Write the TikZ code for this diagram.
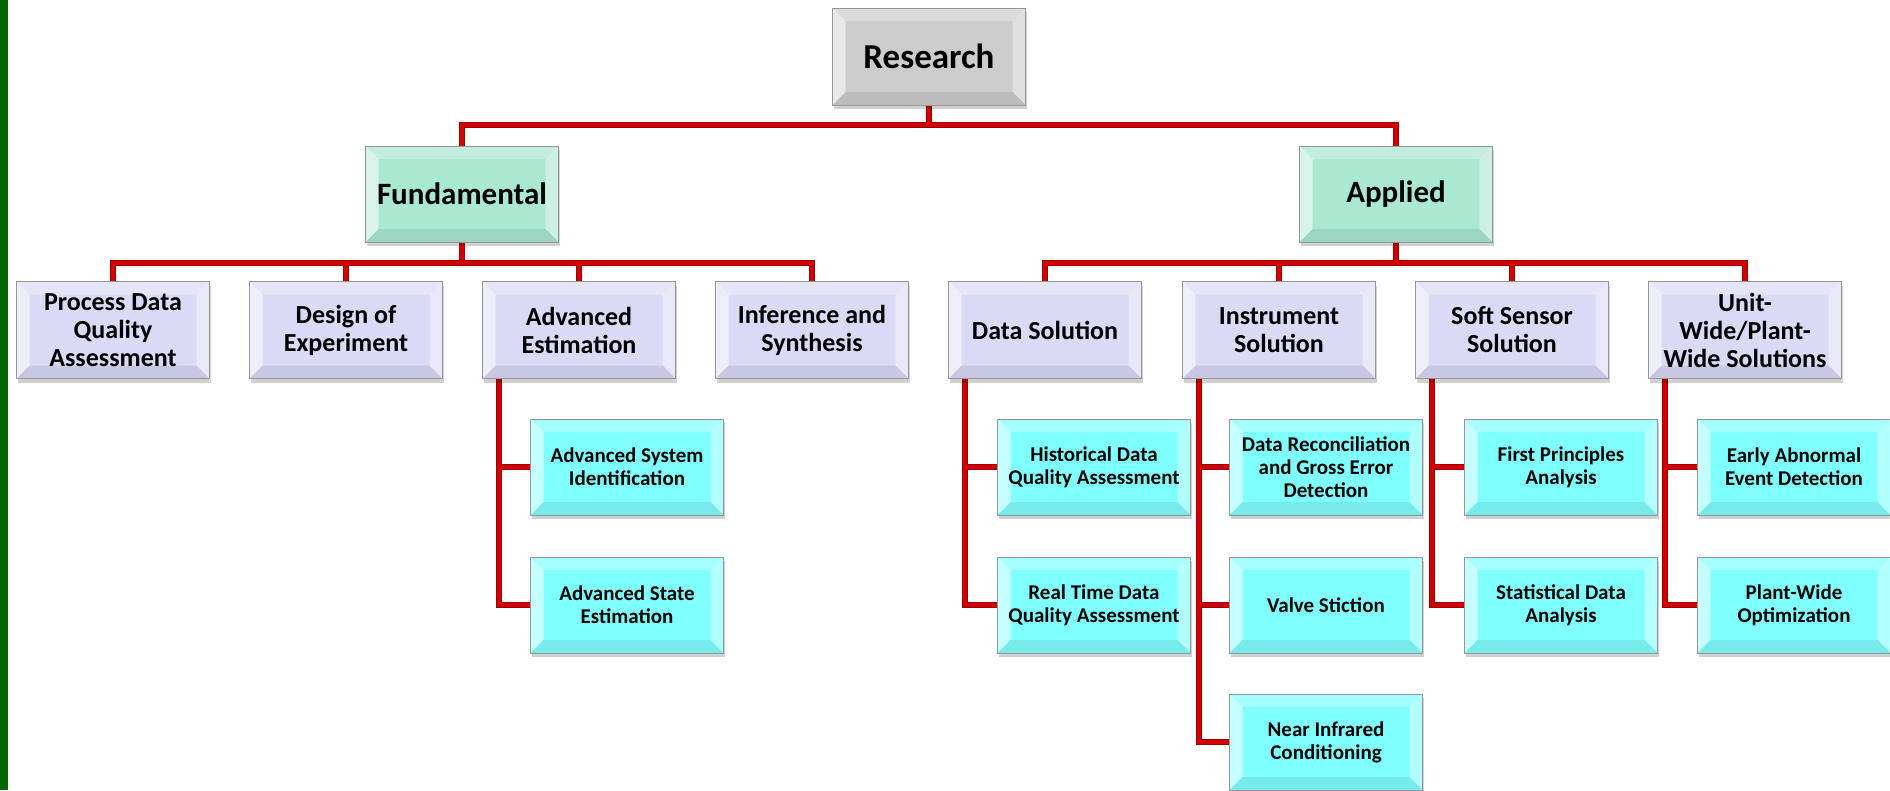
\documentclass[tikz,border=0pt]{standalone}
\usepackage{fontspec}
\setmainfont{Carlito}
\usetikzlibrary{shadows,backgrounds,calc}
\definecolor{barGreen}{RGB}{0,100,0}
\definecolor{lineRed}{RGB}{210,0,0}
\definecolor{lineDark}{RGB}{150,0,0}
\definecolor{rootGray}{RGB}{204,204,204}
\definecolor{mint}{RGB}{170,232,210}
\definecolor{lav}{RGB}{218,218,246}
\definecolor{cyanbox}{RGB}{128,255,255}
\definecolor{edgeGray}{RGB}{150,150,150}
\tikzset{
  bevel/.style={rectangle, draw=edgeGray, line width=1pt,
    minimum width=193pt, minimum height=96pt, inner sep=0pt, align=center, text=black,
    drop shadow={shadow xshift=1pt, shadow yshift=-4pt, opacity=0.18, fill=black},
    path picture={
      \path (path picture bounding box.north west) coordinate (pnw)
            (path picture bounding box.north east) coordinate (pne)
            (path picture bounding box.south west) coordinate (psw)
            (path picture bounding box.south east) coordinate (pse);
      \fill[white,opacity=.30] (pnw) -- (pne) -- ([shift={(-13pt,-13pt)}]pne) -- ([shift={(13pt,-13pt)}]pnw) -- cycle;
      \fill[white,opacity=.55] (pnw) -- ([shift={(13pt,-13pt)}]pnw) -- ([shift={(13pt,13pt)}]psw) -- (psw) -- cycle;
      \fill[white,opacity=.40] (pne) -- (pse) -- ([shift={(-13pt,13pt)}]pse) -- ([shift={(-13pt,-13pt)}]pne) -- cycle;
      \fill[black,opacity=.08] (psw) -- (pse) -- ([shift={(-13pt,13pt)}]pse) -- ([shift={(13pt,13pt)}]psw) -- cycle;
    }},
  rootbox/.style={bevel, fill=rootGray, minimum height=97pt, font=\bfseries\fontsize{35}{40}\selectfont},
  midbox/.style={bevel, fill=mint, font=\bfseries\fontsize{31}{36}\selectfont},
  catbox/.style={bevel, fill=lav, minimum height=97pt, font=\bfseries\fontsize{26}{28}\selectfont},
  leafbox/.style={bevel, fill=cyanbox, font=\bfseries\fontsize{21}{23}\selectfont},
  darkw/.style={draw=lineDark, line width=6pt},
  redw/.style={draw=lineRed, line width=4pt},
}
\newcommand\wires[1]{%
  \draw[#1] (R.south) -- ++(0,19) -| (F.north);
  \draw[#1] (R.south) -- ++(0,19) -| (A.north);
  \foreach \c in {p1,p2,p3,p4} \draw[#1] (F.south) -- ++(0,20) -| (\c.north);
  \foreach \c in {q1,q2,q3,q4} \draw[#1] (A.south) -- ++(0,20) -| (\c.north);
  \foreach \pp/\ch in {p3/e1,p3/e2,q1/d1,q1/d2,q2/i1,q2/i2,q2/i3,q3/s1,q3/s2,q4/u1,q4/u2}
    \draw[#1] ([xshift=17pt]\pp.south west) |- (\ch.west);
}
\begin{document}
\begin{tikzpicture}[x=1pt,y=-1pt]
\useasboundingbox (0,0) rectangle (1890,790);

\node[rootbox] (R) at (929,56.5) {Research};
\node[midbox] (F) at (462,194) {Fundamental};
\node[midbox] (A) at (1396,194) {Applied};

\node[catbox] (p1) at (113,330) {Process Data\\Quality\\Assessment};
\node[catbox] (p2) at (346,330) {Design of\\Experiment};
\node[catbox] (p3) at (579,330) {Advanced\\Estimation};
\node[catbox] (p4) at (812,330) {Inference and\\Synthesis};
\node[catbox] (q1) at (1045,330) {Data Solution};
\node[catbox] (q2) at (1279,330) {Instrument\\Solution};
\node[catbox] (q3) at (1512,330) {Soft Sensor\\Solution};
\node[catbox] (q4) at (1745,330) {Unit-\\Wide/Plant-\\Wide Solutions};

\node[leafbox] (e1) at (627,467) {Advanced System\\Identification};
\node[leafbox] (e2) at (627,605) {Advanced State\\Estimation};
\node[leafbox] (d1) at (1094,467) {Historical Data\\Quality Assessment};
\node[leafbox] (d2) at (1094,605) {Real Time Data\\Quality Assessment};
\node[leafbox] (i1) at (1326,467) {Data Reconciliation\\and Gross Error\\Detection};
\node[leafbox] (i2) at (1326,605) {Valve Stiction};
\node[leafbox] (i3) at (1326,742) {Near Infrared\\Conditioning};
\node[leafbox] (s1) at (1561,467) {First Principles\\Analysis};
\node[leafbox] (s2) at (1561,605) {Statistical Data\\Analysis};
\node[leafbox] (u1) at (1794,467) {Early Abnormal\\Event Detection};
\node[leafbox] (u2) at (1794,605) {Plant-Wide\\Optimization};

\begin{pgfonlayer}{background}
\fill[white] (0,0) rectangle (1890,790);
\fill[barGreen] (0,0) rectangle (8,790);
\wires{darkw}
\wires{redw}
\end{pgfonlayer}
\end{tikzpicture}
\end{document}
